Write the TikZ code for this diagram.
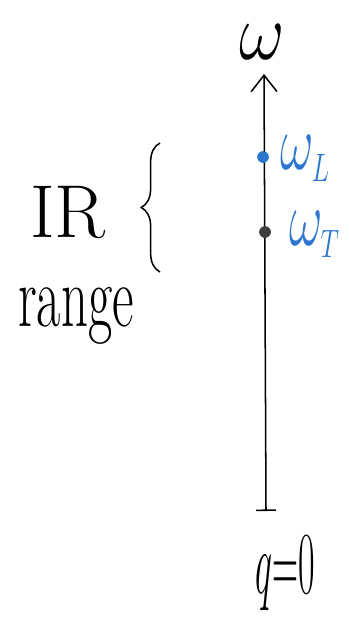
\documentclass[tikz,border=0pt]{standalone}
\usepackage{fix-cm}
\usetikzlibrary{arrows.meta,decorations.pathreplacing,positioning}

\definecolor{wblue}{RGB}{45,118,205}
\definecolor{wdark}{RGB}{62,62,62}

\tikzset{
  wdot/.style={circle,inner sep=0pt,minimum size=10pt},
  hand/.style={inner sep=0pt,font=\fontsize{60}{66}\selectfont},
  modelab/.style={hand,font=\fontsize{52}{56}\selectfont,text=wblue},
}

\begin{document}
\begin{tikzpicture}[x=0.03cm,y=-0.03cm,line width=1.3pt]
\useasboundingbox (0,0) rectangle (349,629);

% Frequency axis at q=0
\coordinate (base) at (266,511);
\coordinate (tip) at (264,74);
\draw[{Bar[width=17pt]}-{Straight Barb[length=14pt,width=22pt]}] (base) -- (tip);
\node[hand] (wlab) at (262,42) {\scalebox{1}[1.15]{$\omega$}};
\node[hand,font=\fontsize{56}{60}\selectfont] (qlab) at (285,574) {\scalebox{0.55}[1.35]{$q{=}0$}};

% Mode frequencies
\node[wdot,fill=wblue] (wL) at (263,157) {};
\node[wdot,fill=wdark] (wT) at (265,232) {};
\node[modelab,right=0.3cm of wL,yshift=-1pt] (wLlab) {\scalebox{0.85}[1.3]{$\omega_{\scriptscriptstyle L}$}};
\node[modelab,right=0.5cm of wT,yshift=-2pt] (wTlab) {\scalebox{0.85}[1.3]{$\omega_{\scriptscriptstyle T}$}};

% IR range brace
\coordinate (btop) at (160,143);
\coordinate (bbot) at (160,272);
\draw[decorate,decoration={brace,amplitude=16pt}] (bbot) -- (btop);
\node[hand,font=\fontsize{64}{70}\selectfont] (ir) at (68,212) {IR};
\node[hand] (range) at (76,316) {\scalebox{0.75}[1.25]{range}};
\end{tikzpicture}
\end{document}
